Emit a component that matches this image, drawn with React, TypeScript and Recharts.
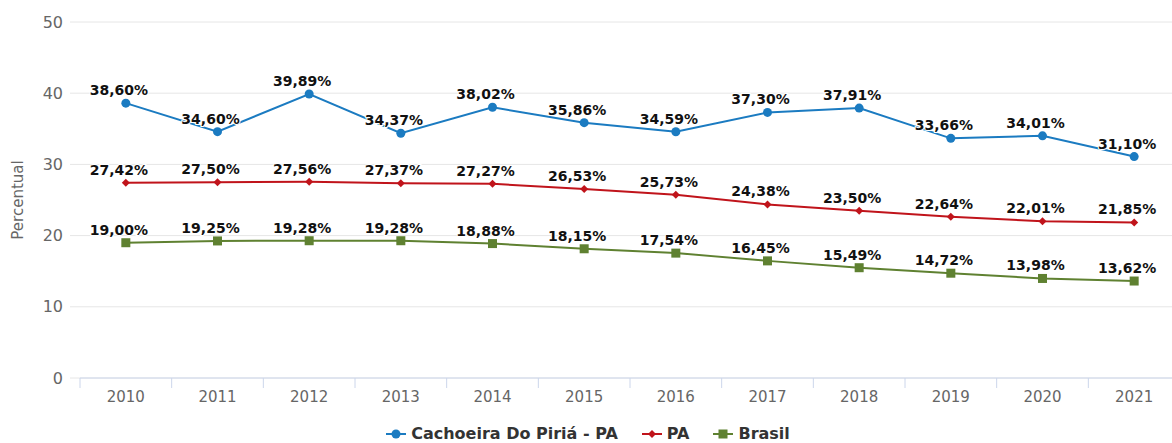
import React from 'react'
import { LineChart, Line, XAxis, YAxis, CartesianGrid, LabelList } from 'recharts'

const years = ['2010', '2011', '2012', '2013', '2014', '2015', '2016', '2017', '2018', '2019', '2020', '2021']
const cachoeira = [38.6, 34.6, 39.89, 34.37, 38.02, 35.86, 34.59, 37.3, 37.91, 33.66, 34.01, 31.1]
const para = [27.42, 27.5, 27.56, 27.37, 27.27, 26.53, 25.73, 24.38, 23.5, 22.64, 22.01, 21.85]
const brasil = [19.0, 19.25, 19.28, 19.28, 18.88, 18.15, 17.54, 16.45, 15.49, 14.72, 13.98, 13.62]
const yTicks = [0, 10, 20, 30, 40, 50]

const series = [
    { key: 'cachoeira', name: 'Cachoeira Do Piriá - PA', color: '#1b7bc1', shape: 'circle' },
    { key: 'pa', name: 'PA', color: '#c0141b', shape: 'diamond' },
    { key: 'brasil', name: 'Brasil', color: '#5f8131', shape: 'square' },
]

const data = years.map((y, i) => ({
    year: y,
    cachoeira: cachoeira[i],
    pa: para[i],
    brasil: brasil[i],
}))

const W = 1172
const CHART_H = 420
const LEFT = 80
const PLOT_W = W - LEFT + 8
const BAND = PLOT_W / years.length
const AXIS_Y = 378
const FONT = '"DejaVu Sans", sans-serif'

const fmt = (v: number) => v.toFixed(2).replace('.', ',') + '%'

function Marker({ cx, cy, shape, color }: any) {
    if (cx == null || cy == null) return null
    if (shape === 'circle') return <circle cx={cx} cy={cy} r={4.5} fill={color} />
    if (shape === 'diamond')
        return <path d={`M${cx},${cy - 4} L${cx + 4},${cy} L${cx},${cy + 4} L${cx - 4},${cy} Z`} fill={color} />
    return <rect x={cx - 4.5} y={cy - 4.5} width={9} height={9} fill={color} />
}

function XTick({ x, payload }: any) {
    return (
        <g>
            <line x1={x - BAND / 2} x2={x - BAND / 2} y1={AXIS_Y} y2={AXIS_Y + 10} stroke="#ccd6eb" />
            <text x={x} y={AXIS_Y + 24} textAnchor="middle" fill="#666" fontSize={15} fontFamily={FONT}>
                {payload.value}
            </text>
        </g>
    )
}

function PointLabel({ x, y, value }: any) {
    return (
        <text
            x={x - 7}
            y={y - 8}
            textAnchor="middle"
            fontSize={14}
            fontWeight="bold"
            fontFamily={FONT}
            fill="#111"
            stroke="#fff"
            strokeWidth={2}
            paintOrder="stroke"
        >
            {fmt(value)}
        </text>
    )
}

function LegendIcon({ color, shape }: { color: string; shape: string }) {
    return (
        <svg width={20} height={12} style={{ marginRight: 5 }}>
            <line x1={0} x2={20} y1={6} y2={6} stroke={color} strokeWidth={2} />
            <Marker cx={10} cy={6} shape={shape} color={color} />
        </svg>
    )
}

export default function App() {
    return (
        <div style={{ position: 'absolute', left: 0, top: 0, width: W, height: 443, overflow: 'hidden', background: '#fff' }}>
            <LineChart width={W} height={CHART_H} data={data} margin={{ top: 22, right: -8, left: 0, bottom: 0 }}>
                <CartesianGrid vertical={false} stroke="#e6e6e6" />
                <XAxis
                    dataKey="year"
                    height={42}
                    padding={{ left: BAND / 2, right: BAND / 2 }}
                    axisLine={{ stroke: '#ccd6eb' }}
                    tickLine={false}
                    tick={<XTick />}
                    interval={0}
                />
                <YAxis
                    width={LEFT}
                    domain={[0, 50]}
                    ticks={yTicks}
                    axisLine={false}
                    tickLine={{ stroke: '#e6e6e6' }}
                    tickSize={10}
                    tickMargin={7}
                    tick={{ fill: '#666', fontSize: 16, fontFamily: FONT }}
                    label={{
                        content: () => (
                            <text
                                x={18}
                                y={200}
                                transform="rotate(-90, 18, 200)"
                                textAnchor="middle"
                                dominantBaseline="central"
                                fill="#666"
                                fontSize={15}
                                fontFamily={FONT}
                            >
                                Percentual
                            </text>
                        ),
                    }}
                />
                {series.map((s) => (
                    <Line
                        key={s.key}
                        dataKey={s.key}
                        name={s.name}
                        stroke={s.color}
                        strokeWidth={2}
                        dot={(p: any) => <Marker key={p.index} cx={p.cx} cy={p.cy} shape={s.shape} color={s.color} />}
                        activeDot={false}
                        isAnimationActive={false}
                    >
                        <LabelList dataKey={s.key} content={<PointLabel />} />
                    </Line>
                ))}
            </LineChart>
            <div
                style={{
                    position: 'absolute',
                    top: 424,
                    left: 0,
                    width: W,
                    display: 'flex',
                    justifyContent: 'center',
                    alignItems: 'center',
                    fontFamily: FONT,
                    fontWeight: 'bold',
                    fontSize: 16,
                    color: '#333',
                    paddingLeft: 14,
                }}
            >
                {series.map((s) => (
                    <div key={s.key} style={{ display: 'flex', alignItems: 'center', marginRight: 24 }}>
                        <LegendIcon color={s.color} shape={s.shape} />
                        {s.name}
                    </div>
                ))}
            </div>
        </div>
    )
}
